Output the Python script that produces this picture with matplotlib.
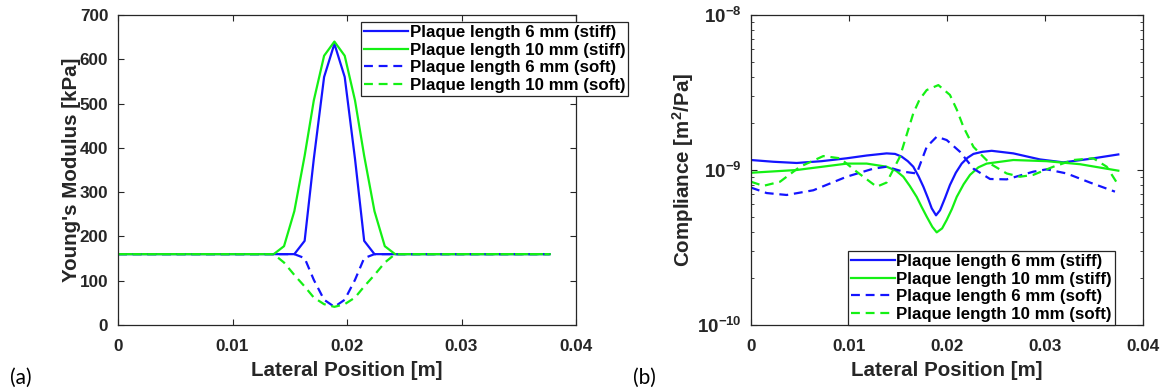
import numpy as np
import matplotlib
matplotlib.use('Agg')
import matplotlib.pyplot as plt
from matplotlib.ticker import FixedLocator, LogLocator, NullFormatter, FuncFormatter

plt.rcParams['font.family'] = ['Liberation Sans', 'DejaVu Sans']
plt.rcParams['font.weight'] = 'bold'
plt.rcParams['mathtext.fontset'] = 'custom'
plt.rcParams['mathtext.rm'] = 'Liberation Sans:bold'
plt.rcParams['mathtext.bf'] = 'Liberation Sans:bold'
plt.rcParams['mathtext.default'] = 'bf'

## (a) Young's modulus [kPa] vs lateral position [m]
x_mod = [0.0, 0.0136, 0.0145, 0.0154, 0.0163, 0.0171, 0.0180, 0.0189,
         0.0198, 0.0207, 0.0215, 0.0224, 0.0233, 0.0242, 0.0377]
e_6_stiff = [160, 160, 160, 160, 190, 375, 560, 635, 560, 375, 190, 160, 160, 160, 160]
e_10_stiff = [160, 160, 178, 257, 382, 507, 608, 640, 608, 507, 382, 257, 178, 160, 160]
e_6_soft = [160, 160, 160, 160, 151, 102, 57, 41, 57, 102, 151, 160, 160, 160, 160]
e_10_soft = [160, 160, 141, 113, 87, 62, 47, 41, 47, 62, 87, 113, 141, 160, 160]

## (b) compliance [m^2/Pa] vs lateral position [m]
x_c6s = [0.0, 0.0023, 0.00466, 0.0072, 0.00976, 0.0118, 0.01384, 0.01470, 0.01537, 0.01600,
         0.01656, 0.01710, 0.01759, 0.01805, 0.01844, 0.01888, 0.01929, 0.01980, 0.0203,
         0.0209, 0.0215, 0.0221, 0.0227, 0.0236, 0.02456, 0.02677, 0.02949, 0.03187,
         0.03459, 0.03748]
c_6_stiff = [1.16e-9, 1.13e-9, 1.11e-9, 1.14e-9, 1.19e-9, 1.24e-9, 1.28e-9, 1.27e-9, 1.22e-9,
             1.14e-9, 1.05e-9, 9.1e-10, 7.8e-10, 6.6e-10, 5.66e-10, 5.1e-10, 5.5e-10, 6.6e-10,
             8.0e-10, 9.6e-10, 1.10e-9, 1.20e-9, 1.27e-9, 1.31e-9, 1.33e-9, 1.28e-9, 1.17e-9,
             1.12e-9, 1.18e-9, 1.26e-9]

x_c10s = [0.0, 0.00466, 0.0098, 0.0118, 0.01384, 0.0148, 0.01554, 0.0162, 0.01691, 0.0174,
          0.01793, 0.0185, 0.01895, 0.0195, 0.01997, 0.0205, 0.02099, 0.0217, 0.02235, 0.0232,
          0.02405, 0.02677, 0.03017, 0.03357, 0.03748]
c_10_stiff = [9.6e-10, 1.0e-9, 1.1e-9, 1.1e-9, 1.05e-9, 9.9e-10, 9.05e-10, 7.9e-10, 6.7e-10,
              5.8e-10, 5.0e-10, 4.3e-10, 3.96e-10, 4.2e-10, 4.76e-10, 5.6e-10, 6.7e-10,
              8.1e-10, 9.3e-10, 1.04e-9, 1.1e-9, 1.16e-9, 1.14e-9, 1.09e-9, 9.9e-10]

x_c6f = [0.0, 0.0016, 0.00364, 0.00636, 0.00976, 0.01248, 0.01384, 0.01554, 0.01691,
         0.0174, 0.01793, 0.01895, 0.01997, 0.02133, 0.0227, 0.02439, 0.02609, 0.0288, 0.03017,
         0.03221, 0.03459, 0.03714]
c_6_soft = [7.7e-10, 7.1e-10, 6.9e-10, 7.4e-10, 9.05e-10, 1.02e-9, 1.05e-9, 9.75e-10, 9.5e-10,
            1.15e-9, 1.41e-9, 1.64e-9, 1.56e-9, 1.31e-9, 1.02e-9, 8.75e-10, 8.7e-10, 9.75e-10,
            1.01e-9, 9.5e-10, 8.3e-10, 7.25e-10]

x_c10f = [0.0, 0.00126, 0.00296, 0.005, 0.00738, 0.00908, 0.01078, 0.01282, 0.01384, 0.0152,
          0.0159, 0.01656, 0.0172, 0.01793, 0.01912, 0.0203, 0.0210, 0.02167, 0.0227, 0.02439,
          0.02609, 0.02745, 0.0288, 0.03085, 0.03289, 0.03493, 0.0363, 0.03732]
c_10_soft = [8.4e-10, 7.9e-10, 8.4e-10, 1.05e-9, 1.23e-9, 1.19e-9, 9.75e-10, 7.8e-10, 8.3e-10,
             1.22e-9, 1.7e-9, 2.32e-9, 2.85e-9, 3.28e-9, 3.53e-9, 3.05e-9, 2.45e-9, 1.9e-9,
             1.41e-9, 1.1e-9, 9.5e-10, 9.05e-10, 9.3e-10, 1.05e-9, 1.16e-9, 1.19e-9, 1.05e-9,
             8.3e-10]

labels = ['Plaque length 6 mm (stiff)', 'Plaque length 10 mm (stiff)',
          'Plaque length 6 mm (soft)', 'Plaque length 10 mm (soft)']

blue = '#1414ff'
green = '#14f014'
dash = (0, (4.0, 2.6))
axcol = '#262626'
lw = 1.6

W, H = 1164, 392
fig = plt.figure(figsize=(W / 100, H / 100), dpi=100)
ax1 = fig.add_axes([118 / W, (H - 325) / H, (576 - 118) / W, 310 / H])
ax2 = fig.add_axes([751 / W, (H - 325) / H, (1143 - 751) / W, 310 / H])

ax1.plot(x_mod, e_6_stiff, color=blue, lw=lw, label=labels[0])
ax1.plot(x_mod, e_10_stiff, color=green, lw=lw, label=labels[1])
ax1.plot(x_mod, e_6_soft, color=blue, lw=lw, linestyle=dash, label=labels[2])
ax1.plot(x_mod, e_10_soft, color=green, lw=lw, linestyle=dash, label=labels[3])

ax2.semilogy(x_c6s, c_6_stiff, color=blue, lw=lw, label=labels[0])
ax2.semilogy(x_c10s, c_10_stiff, color=green, lw=lw, label=labels[1])
ax2.semilogy(x_c6f, c_6_soft, color=blue, lw=lw, linestyle=dash, label=labels[2])
ax2.semilogy(x_c10f, c_10_soft, color=green, lw=lw, linestyle=dash, label=labels[3])

ax1.set_xlim(0, 0.04)
ax1.set_ylim(0, 700)
ax1.set_xticks([0, 0.01, 0.02, 0.03, 0.04])
ax1.set_xticklabels(['0', '0.01', '0.02', '0.03', '0.04'])
ax1.set_yticks(np.arange(0, 701, 100))

ax2.set_xlim(0, 0.04)
ax2.set_ylim(1e-10, 1e-8)
ax2.set_xticks([0, 0.01, 0.02, 0.03, 0.04])
ax2.set_xticklabels(['0', '0.01', '0.02', '0.03', '0.04'])
ax2.yaxis.set_major_locator(FixedLocator([1e-10, 1e-9, 1e-8]))
ax2.yaxis.set_minor_locator(LogLocator(base=10, subs=np.arange(2, 10)))
ax2.yaxis.set_minor_formatter(NullFormatter())
ax2.yaxis.set_major_formatter(FuncFormatter(
    lambda v, p: r'$\mathbf{10^{%d}}$' % int(round(np.log10(v)))))

for ax in (ax1, ax2):
    for s in ax.spines.values():
        s.set_color(axcol)
        s.set_linewidth(0.9)
    ax.tick_params(which='both', direction='in', top=True, right=True,
                   colors=axcol, labelcolor=axcol, labelsize=12.3, pad=7)
    ax.tick_params(axis='x', pad=10)
    ax.tick_params(which='major', length=4)
    ax.tick_params(which='minor', length=2.5)
    ax.set_xlabel('Lateral Position [m]', fontsize=14.8, fontweight='bold',
                  color=axcol, labelpad=5)
    for t in ax.get_xticklabels() + ax.get_yticklabels():
        t.set_fontweight('bold')
ax2.tick_params(axis='y', labelsize=13.5)

ax1.set_ylabel("Young's Modulus [kPa]", fontsize=14.8, fontweight='bold', color=axcol)
ax1.yaxis.set_label_coords(-0.08, 0.5)
ax2.set_ylabel(r'Compliance [m$^2$/Pa]', fontsize=14.8, fontweight='bold', color=axcol)
ax2.yaxis.set_label_coords(-0.14, 0.5)

legkw = dict(fontsize=12.2, frameon=True, fancybox=False, framealpha=1,
             edgecolor=axcol, handlelength=2.6, handletextpad=0.1,
             labelspacing=0.15, borderpad=0.18, borderaxespad=0)
leg1 = ax1.legend(loc='upper right', bbox_to_anchor=(1.114, 0.977), **legkw)
leg2 = ax2.legend(loc='lower right', bbox_to_anchor=(0.929, 0.0), **legkw)
for leg in (leg1, leg2):
    leg.get_frame().set_linewidth(0.9)
    for t in leg.get_texts():
        t.set_fontweight('bold')
        t.set_color('black')

fig.text(10 / W, 1 - 378 / H, '(a)', fontsize=15, fontweight='normal',
         family=['Lato', 'DejaVu Sans'], va='center', ha='left', color='black')
fig.text(633 / W, 1 - 378 / H, '(b)', fontsize=15, fontweight='normal',
         family=['Lato', 'DejaVu Sans'], va='center', ha='left', color='black')

plt.savefig('out.png', dpi=100)
